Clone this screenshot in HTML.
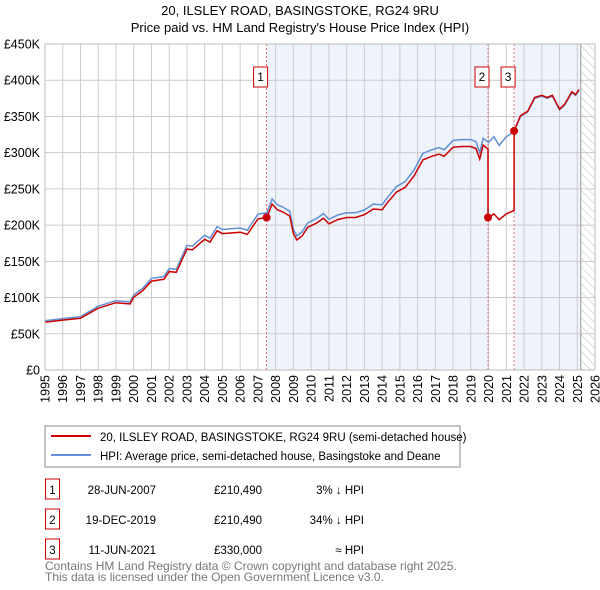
<!DOCTYPE html>
<html><head><meta charset="utf-8"><style>
body{margin:0;background:#fff;font-family:"Liberation Sans","DejaVu Sans",sans-serif;}
#c{position:relative;width:600px;height:590px;overflow:hidden}
</style></head><body><div id="c">
<svg id="s" width="600" height="590" xmlns="http://www.w3.org/2000/svg" font-family="Liberation Sans, DejaVu Sans, sans-serif">
<defs><pattern id="h" width="6" height="6" patternUnits="userSpaceOnUse" patternTransform="rotate(-45)"><line x1="0" y1="0" x2="0" y2="6" stroke="#bbb" stroke-width="1"/></pattern></defs>
<text x="300" y="15" text-anchor="middle" font-size="13">20, ILSLEY ROAD, BASINGSTOKE, RG24 9RU</text>
<text x="300" y="32" text-anchor="middle" font-size="13">Price paid vs. HM Land Registry's House Price Index (HPI)</text>
<g id="plot"></g>
<rect x="45" y="426" width="415" height="41" fill="#fff" stroke="#888"/>
<line x1="51" y1="436" x2="91" y2="436" stroke="#cc0000" stroke-width="2"/>
<text x="100" y="441" font-size="11.5">20, ILSLEY ROAD, BASINGSTOKE, RG24 9RU (semi-detached house)</text>
<line x1="51" y1="455" x2="91" y2="455" stroke="#6190d6" stroke-width="2"/>
<text x="100" y="460" font-size="11.5">HPI: Average price, semi-detached house, Basingstoke and Deane</text>
<g id="tbl" font-size="11.5"></g>
<text x="45" y="570" font-size="12" fill="#777">Contains HM Land Registry data © Crown copyright and database right 2025.</text>
<text x="45" y="581" font-size="12" fill="#777">This data is licensed under the Open Government Licence v3.0.</text>
</svg></div>
<script>
const hpiYears=[1995,1996,1997,1998,1999,1999.8,2000,2000.5,2001,2001.7,2002,2002.4,2003,2003.3,2004,2004.3,2004.7,2005,2006,2006.4,2007,2007.5,2007.8,2008.1,2008.4,2008.8,2009,2009.2,2009.5,2009.8,2010.3,2010.7,2011,2011.5,2012,2012.5,2013,2013.5,2014,2014.3,2014.8,2015.3,2015.8,2016.3,2016.8,2017.2,2017.5,2018,2018.5,2019,2019.3,2019.5,2019.7,2020,2020.3,2020.6,2021,2021.44,2021.8,2022.2,2022.6,2023,2023.3,2023.6,2024,2024.3,2024.7,2024.9,2025.1];
const hpiValues=[68,71,73.6,88,95.7,94,103.5,112.7,126.5,129,140,139,172,171,186,182,198,194,196,193,215,217,236,228,225,219,194,185,191,203,209,216,208,214,217,217,221,229,228,238,253,260,276,299,304,307,304,317,318,318,315,300,320,314,322,310,322,329,350,356,375,378,375,378,359,366,383,379,386];
const saleLabels=["1","2","3"];
const saleYears=[2007.49,2019.97,2021.44];
const salePrices=[210.49,210.49,330];
const saleDates=["28-JUN-2007","19-DEC-2019","11-JUN-2021"];
const salePriceText=["£210,490","£210,490","£330,000"];
const saleHpiText=["3% ↓ HPI","34% ↓ HPI","≈ HPI"];
const yTicks=[0,50,100,150,200,250,300,350,400,450];
const yTickLabels=["£0","£50K","£100K","£150K","£200K","£250K","£300K","£350K","£400K","£450K"];
const xTicks=[1995,1996,1997,1998,1999,2000,2001,2002,2003,2004,2005,2006,2007,2008,2009,2010,2011,2012,2013,2014,2015,2016,2017,2018,2019,2020,2021,2022,2023,2024,2025,2026];
const dataEnd=2025.2;

const X0=45,X1=595,Y0=370,Y1=44;
const xs=y=>X0+(y-1995)/(2026-1995)*(X1-X0);
const ys=v=>Y0-v/450*(Y0-Y1);
const NS="http://www.w3.org/2000/svg";
const plot=document.getElementById('plot');
function mk(tag,at,parent){const e=document.createElementNS(NS,tag);for(const k in at)e.setAttribute(k,at[k]);(parent||plot).appendChild(e);return e;}
function hpiAt(t){for(let i=1;i<hpiYears.length;i++){if(t<=hpiYears[i]){const f=(t-hpiYears[i-1])/(hpiYears[i]-hpiYears[i-1]);return hpiValues[i-1]+f*(hpiValues[i]-hpiValues[i-1]);}}return hpiValues[hpiValues.length-1];}
let e=mk('rect',{x:xs(saleYears[0]),y:Y1,width:xs(saleYears[1])-xs(saleYears[0]),height:Y0-Y1,fill:'#eef3fc'});

e=mk('rect',{x:xs(saleYears[2]),y:Y1,width:xs(dataEnd)-xs(saleYears[2]),height:Y0-Y1,fill:'#eef3fc'});

e=mk('rect',{x:xs(dataEnd),y:Y1,width:X1-xs(dataEnd),height:Y0-Y1,fill:'url(#h)'});

xTicks.forEach((t,i)=>{const g=mk('line',{x1:xs(t),x2:xs(t),y1:Y1,y2:Y0,stroke:'#ccc'});

const l=mk('text',{x:0,y:0,'text-anchor':'end','font-size':12.5,transform:'translate('+(xs(t)+4.5)+',375) rotate(-90)'});l.textContent=t;
});
yTicks.forEach((v,i)=>{const g=mk('line',{x1:X0,x2:X1,y1:ys(v),y2:ys(v),stroke:'#ccc'});

const l=mk('text',{x:40,y:ys(v)+4.5,'text-anchor':'end','font-size':12.5});l.textContent=yTickLabels[i];
});
e=mk('line',{x1:xs(dataEnd),x2:xs(dataEnd),y1:Y1,y2:Y0,stroke:'#999'});

saleYears.forEach((t,i)=>{const l=mk('line',{x1:xs(t),x2:xs(t),y1:Y1,y2:Y0,stroke:'#e05050','stroke-dasharray':'2,2','stroke-width':0.8});

const r=mk('rect',{x:xs(t)-13,y:67,width:14,height:20,fill:'#fff',stroke:'#cc0000'});

const tx=mk('text',{x:xs(t)-6,y:81,'text-anchor':'middle','font-size':12});tx.textContent=saleLabels[i];
});
let d='';hpiYears.forEach((t,i)=>{d+=(i?'L':'M')+xs(t).toFixed(1)+','+ys(hpiValues[i]).toFixed(1);});
e=mk('path',{d:d,fill:'none',stroke:'#6190d6','stroke-width':1.5});

const ratios=saleYears.map((t,i)=>salePrices[i]/hpiAt(t));
let rd='';let pts=[];
hpiYears.forEach((t,i)=>{pts.push(t);});
saleYears.forEach(t=>{pts.push(t-0.001);pts.push(t);});
pts.sort((a,b)=>a-b);
pts.forEach((t,i)=>{let k=0;for(let j=0;j<saleYears.length;j++)if(t>=saleYears[j])k=j;const v=hpiAt(t)*ratios[k];
rd+=(i?'L':'M')+xs(t).toFixed(1)+','+ys(v).toFixed(1);});
e=mk('path',{d:rd,fill:'none',stroke:'#cc0000','stroke-width':1.5});

saleYears.forEach((t,i)=>{const c=mk('circle',{cx:xs(t),cy:ys(salePrices[i]),r:4,fill:'#cc0000'});
});
e=mk('rect',{x:X0,y:Y1,width:X1-X0,height:Y0-Y1,fill:'none',stroke:'#bbb'});

const tbl=document.getElementById('tbl');
saleLabels.forEach((s,i)=>{const y=490+i*30;
let r=mk('rect',{x:45.5,y:y-11,width:14,height:20,fill:'#fff',stroke:'#cc0000'},tbl);

let t=mk('text',{x:52.5,y:y+4,'text-anchor':'middle'},tbl);t.textContent=s;

t=mk('text',{x:156,y:y+4,'text-anchor':'end'},tbl);t.textContent=saleDates[i];

t=mk('text',{x:262,y:y+4,'text-anchor':'end'},tbl);t.textContent=salePriceText[i];

t=mk('text',{x:364,y:y+4,'text-anchor':'end'},tbl);t.textContent=saleHpiText[i];
});
</script></body></html>
